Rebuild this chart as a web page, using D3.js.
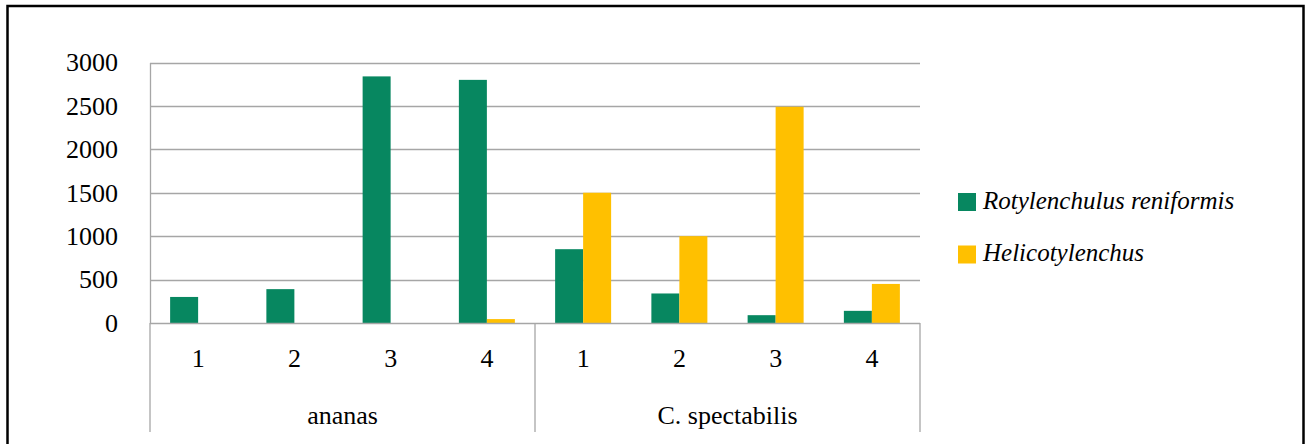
<!DOCTYPE html>
<html>
<head>
<meta charset="utf-8">
<script src="https://cdn.jsdelivr.net/npm/d3@7"></script>
<style>
  html, body { margin: 0; padding: 0; background: #fff; }
  svg { display: block; }
</style>
</head>
<body>
<svg id="chart" width="1312" height="444"></svg>
<script>
// Nematode counts per treatment, grouped by host plant
const groups = ["ananas", "C. spectabilis"];
const treatments = ["1", "2", "3", "4"];
const seriesNames = ["Rotylenchulus reniformis", "Helicotylenchus"];
const seriesColors = ["#078760", "#FFC000"];
const rotylenchulus = [300, 390, 2840, 2800, 850, 340, 90, 140];
const helicotylenchus = [0, 0, 0, 45, 1500, 1000, 2490, 450];
const yTicks = [0, 500, 1000, 1500, 2000, 2500, 3000];

const FONT = "'Times New Roman', Times, 'Liberation Serif', Tinos, 'DejaVu Serif', serif";

const svg = d3.select("#chart");
const plot = { left: 150, right: 920, top: 62.5, bottom: 323 };
const axisBottom = 432;

// Flattened category list: one slot per (group, treatment)
const cats = [];
groups.forEach((g, gi) => treatments.forEach((t, ti) => cats.push({ group: g, label: t, idx: gi * treatments.length + ti })));

const x = d3.scaleBand().domain(cats.map(c => c.idx)).range([plot.left, plot.right]).padding(0);
const barW = 28;
const outer = (x.bandwidth() / barW - seriesNames.length) / 2;
const xs = d3.scaleBand().domain(seriesNames).range([0, x.bandwidth()]).paddingInner(0).paddingOuter(outer);
const y = d3.scaleLinear().domain([0, 3000]).range([plot.bottom, plot.top]);

// Outer frame
svg.append("rect")
  .attr("x", 7.5).attr("y", 6).attr("width", 1296).attr("height", 460)
  .attr("fill", "none").attr("stroke", "#000").attr("stroke-width", 2.5);

// Gridlines
svg.append("g").selectAll("line").data(yTicks.filter(d => d > 0)).join("line")
  .attr("x1", plot.left).attr("x2", plot.right)
  .attr("y1", d => Math.round(y(d)) + 0.5).attr("y2", d => Math.round(y(d)) + 0.5)
  .attr("stroke", "#a6a6a6").attr("stroke-width", 1.3);

// Y axis
const yAxis = svg.append("g").attr("transform", `translate(${plot.left},0)`)
  .call(d3.axisLeft(y).tickValues(yTicks).tickSize(0).tickPadding(32).tickFormat(d3.format("d")))
  .attr("font-family", FONT).attr("font-size", 26);
yAxis.select(".domain").attr("stroke", "#a6a6a6").attr("stroke-width", 1.3);
yAxis.selectAll("text").attr("fill", "#000");

// Bars
const series = [rotylenchulus, helicotylenchus];
series.forEach((vals, si) => {
  svg.append("g").selectAll("rect").data(vals).join("rect")
    .attr("x", (d, i) => x(i) + xs(seriesNames[si]))
    .attr("width", xs.bandwidth())
    .attr("y", d => y(d))
    .attr("height", d => y(0) - y(d))
    .attr("fill", seriesColors[si]);
});

// Category axis: baseline, group dividers and labels
const xAxis = svg.append("g").attr("font-family", FONT).attr("font-size", 26);
xAxis.append("line")
  .attr("x1", plot.left).attr("x2", plot.right)
  .attr("y1", plot.bottom + 0.5).attr("y2", plot.bottom + 0.5)
  .attr("stroke", "#a6a6a6").attr("stroke-width", 1.3);
const dividers = [0, treatments.length, cats.length].map(i => i < cats.length ? x(i) : plot.right);
xAxis.selectAll("line.div").data(dividers).join("line").attr("class", "div")
  .attr("x1", d => d).attr("x2", d => d)
  .attr("y1", plot.bottom).attr("y2", axisBottom)
  .attr("stroke", "#a6a6a6").attr("stroke-width", 1.3);

xAxis.selectAll("text.cat").data(cats).join("text").attr("class", "cat")
  .attr("x", d => x(d.idx) + x.bandwidth() / 2)
  .attr("y", 367)
  .attr("text-anchor", "middle")
  .text(d => d.label);

xAxis.selectAll("text.grp").data(groups).join("text").attr("class", "grp")
  .attr("x", (g, gi) => (x(gi * treatments.length) + (gi === groups.length - 1 ? plot.right : x((gi + 1) * treatments.length))) / 2)
  .attr("y", 424)
  .attr("text-anchor", "middle")
  .text(d => d);

// Legend
const legend = svg.append("g").attr("transform", "translate(958,193)")
  .attr("font-family", FONT).attr("font-size", 25).attr("font-style", "italic");
seriesNames.forEach((name, i) => {
  const row = legend.append("g").attr("transform", `translate(0,${i * 52.5})`);
  row.append("rect").attr("width", 18).attr("height", 18).attr("fill", seriesColors[i]);
  row.append("text").attr("x", 25).attr("y", 15.5).text(name);
});
</script>
</body>
</html>
